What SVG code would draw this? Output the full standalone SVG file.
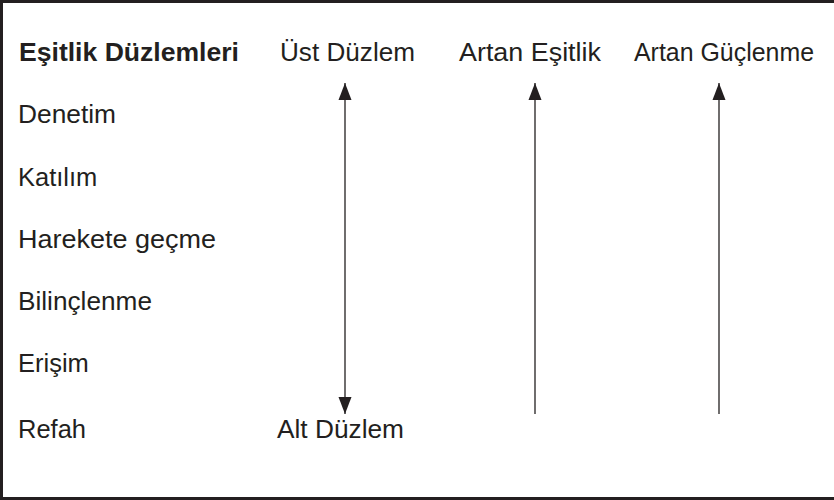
<svg xmlns="http://www.w3.org/2000/svg" width="834" height="500" viewBox="0 0 834 500">
<defs>
<style>
.t{font-family:"Liberation Sans",Arial,sans-serif;font-size:25.5px;fill:#231f20}
.b{font-weight:bold}
.c{stroke:#231f20;stroke-width:1.3;fill:none}
</style>
<marker id="ah" markerUnits="userSpaceOnUse" markerWidth="17" markerHeight="14" refX="17" refY="6.5" orient="auto-start-reverse" viewBox="0 0 17 13">
<path d="M0,0 L17,6.5 L0,13 Z" fill="#231f20"/>
</marker>
</defs>
<rect width="834" height="500" fill="#fff"/>
<path d="M836,1.5 H1.5 V498.5 H836" fill="none" stroke="#231f20" stroke-width="3"/>
<g id="header">
<text class="t b" x="19" y="61" textLength="220" lengthAdjust="spacingAndGlyphs">Eşitlik Düzlemleri</text>
</g>
<g id="ust"><text class="t" x="280" y="61" textLength="135" lengthAdjust="spacingAndGlyphs">Üst Düzlem</text></g>
<g id="artan-esitlik"><text class="t" x="459" y="61" textLength="142" lengthAdjust="spacingAndGlyphs">Artan Eşitlik</text></g>
<g id="artan-guclenme"><text class="t" x="634" y="61" textLength="180" lengthAdjust="spacingAndGlyphs">Artan Güçlenme</text></g>
<g id="denetim"><text class="t" x="18" y="123" textLength="98" lengthAdjust="spacingAndGlyphs">Denetim</text></g>
<g id="katilim"><text class="t" x="18" y="186">Katılım</text></g>
<g id="harekete"><text class="t" x="18" y="248" textLength="198" lengthAdjust="spacingAndGlyphs">Harekete geçme</text></g>
<g id="bilinclenme"><text class="t" x="18" y="310" textLength="134" lengthAdjust="spacingAndGlyphs">Bilinçlenme</text></g>
<g id="erisim"><text class="t" x="18" y="372">Erişim</text></g>
<g id="refah"><text class="t" x="18" y="438">Refah</text></g>
<g id="alt"><text class="t" x="277" y="438" textLength="127" lengthAdjust="spacingAndGlyphs">Alt Düzlem</text></g>
<g id="connectors">
<line class="c" x1="345" y1="83" x2="345" y2="414" marker-start="url(#ah)" marker-end="url(#ah)"/>
<line class="c" x1="535" y1="83" x2="535" y2="414" marker-start="url(#ah)"/>
<line class="c" x1="719" y1="83" x2="719" y2="414" marker-start="url(#ah)"/>
</g>
</svg>
